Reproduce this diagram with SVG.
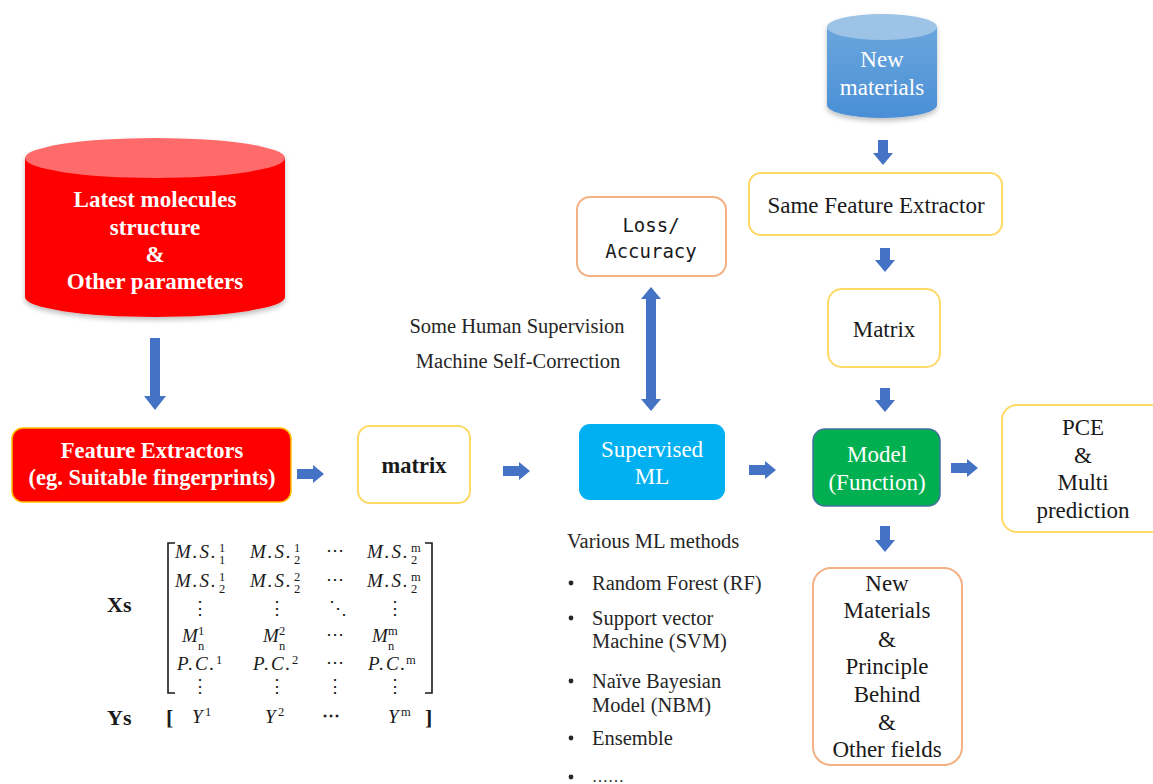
<svg xmlns="http://www.w3.org/2000/svg" width="1153" height="784" viewBox="0 0 1153 784" font-family="Liberation Serif, Times New Roman, serif">
<defs>
<linearGradient id="blueCyl" x1="0" y1="0" x2="0" y2="1">
<stop offset="0" stop-color="#6aa6dc"/>
<stop offset="1" stop-color="#4a8fd6"/>
</linearGradient>
<filter id="shadow" x="-10%" y="-10%" width="120%" height="130%">
<feDropShadow dx="0" dy="3" stdDeviation="2.5" flood-color="#000" flood-opacity="0.25"/>
</filter>
</defs>
<style>
.ser{font-family:"Liberation Serif","Times New Roman",serif;}
.wb{fill:#fff;font-weight:bold;font-size:23px;text-anchor:middle;}
.w{fill:#fff;font-size:23px;text-anchor:middle;}
.k{fill:#1a1a1a;font-size:23px;text-anchor:middle;}
.s{fill:#262626;font-size:20.5px;}
.m{fill:#1a1a1a;font-size:19px;font-style:italic;letter-spacing:2px;}
.sm{fill:#1a1a1a;font-size:12.5px;}
.dots{fill:#1a1a1a;font-size:18px;text-anchor:middle;}
.arrow{fill:#4472c4;}
.ybox{fill:#fff;stroke:#ffd966;stroke-width:2;}
.obox{fill:#fff;stroke:#f4b183;stroke-width:2;}
</style>
<rect width="1153" height="784" fill="#fff"/>

<g id="latest-molecules">
<g filter="url(#shadow)">
<path d="M25 158 V297 A130 20 0 0 0 285 297 V158 Z" fill="#ff0000"/>
<ellipse cx="155" cy="158" rx="130" ry="20" fill="#ff6b6b"/>
</g>
<text class="ser wb" x="155" y="207">Latest molecules</text>
<text class="ser wb" x="155" y="235">structure</text>
<text class="ser wb" x="155" y="262">&amp;</text>
<text class="ser wb" x="155" y="289">Other parameters</text>
</g>

<g id="feature-extractors">
<rect x="12" y="428" width="279" height="74" rx="11" fill="#ff0000" stroke="#ffc000" stroke-width="1.5"/>
<text class="ser wb" x="152" y="458" style="font-size:22.5px">Feature Extractors</text>
<text class="ser wb" x="152" y="485" style="font-size:22.5px">(eg. Suitable fingerprints)</text>
</g>

<g id="matrix">
<rect class="ybox" x="358" y="426" width="112" height="77" rx="12"/>
<text class="ser" x="414" y="473" style="font-size:22.5px;font-weight:bold;text-anchor:middle;fill:#1a1a1a">matrix</text>
</g>

<g id="supervised-ml">
<rect x="579" y="424" width="146" height="76" rx="11" fill="#00b0f0"/>
<text class="ser w" x="652" y="457">Supervised</text>
<text class="ser w" x="652" y="484">ML</text>
</g>

<g id="loss-accuracy">
<rect class="obox" x="577" y="197" width="149" height="79" rx="13"/>
<text x="651" y="232" style="font-family:'DejaVu Sans Mono','Liberation Mono',monospace;font-size:19px;fill:#1a1a1a;text-anchor:middle">Loss/</text>
<text x="651" y="258" style="font-family:'DejaVu Sans Mono','Liberation Mono',monospace;font-size:19px;fill:#1a1a1a;text-anchor:middle">Accuracy</text>
</g>

<g id="supervision-label">
<text class="ser s" x="517" y="333" text-anchor="middle">Some Human Supervision</text>
<text class="ser s" x="518" y="368" text-anchor="middle">Machine Self-Correction</text>
</g>

<g id="new-materials-db">
<g filter="url(#shadow)">
<path d="M827 27 V105 A55 13 0 0 0 937 105 V27 Z" fill="url(#blueCyl)"/>
<ellipse cx="882" cy="27" rx="55" ry="13" fill="#9dc3e6"/>
</g>
<text class="ser w" x="882" y="67">New</text>
<text class="ser w" x="882" y="95">materials</text>
</g>

<g id="same-feature-extractor">
<rect class="ybox" x="749" y="173" width="253" height="62" rx="12"/>
<text class="ser k" x="876" y="213">Same Feature Extractor</text>
</g>

<g id="matrix-2">
<rect class="ybox" x="828" y="289" width="112" height="78" rx="14"/>
<text class="ser k" x="884" y="337">Matrix</text>
</g>

<g id="model">
<rect x="813" y="429" width="127" height="77" rx="12" fill="#00b050" stroke="#41719c" stroke-width="1.5"/>
<text class="ser w" x="877" y="462">Model</text>
<text class="ser w" x="877" y="490">(Function)</text>
</g>

<g id="pce">
<path class="ybox" d="M1165 405 H1017 A15 15 0 0 0 1002 420 V517 A15 15 0 0 0 1017 532 H1165"/>
<text class="ser k" x="1083" y="435">PCE</text>
<text class="ser k" x="1083" y="463">&amp;</text>
<text class="ser k" x="1083" y="490">Multi</text>
<text class="ser k" x="1083" y="518">prediction</text>
</g>

<g id="new-materials-out">
<rect class="obox" x="813" y="568" width="149" height="197" rx="18"/>
<text class="ser k" x="887" y="591">New</text>
<text class="ser k" x="887" y="618">Materials</text>
<text class="ser k" x="887" y="647">&amp;</text>
<text class="ser k" x="887" y="674">Principle</text>
<text class="ser k" x="887" y="702">Behind</text>
<text class="ser k" x="887" y="730">&amp;</text>
<text class="ser k" x="887" y="757">Other fields</text>
</g>

<g id="ml-methods">
<text class="ser s" x="567" y="548">Various ML methods</text>
<g fill="#262626">
<circle cx="571" cy="583" r="2.4"/>
<circle cx="571" cy="618" r="2.4"/>
<circle cx="571" cy="681" r="2.4"/>
<circle cx="571" cy="738" r="2.4"/>
<circle cx="571" cy="777" r="2.4"/>
</g>
<text class="ser s" x="592" y="590">Random Forest (RF)</text>
<text class="ser s" x="592" y="625">Support vector</text>
<text class="ser s" x="592" y="648">Machine (SVM)</text>
<text class="ser s" x="592" y="688">Naïve Bayesian</text>
<text class="ser s" x="592" y="712">Model (NBM)</text>
<text class="ser s" x="592" y="745">Ensemble</text>
<text class="ser s" x="592" y="782" style="font-size:16px">……</text>
</g>

<g id="feature-matrix">
<text class="ser" x="107" y="612" style="font-size:22px;font-weight:bold;fill:#1a1a1a">Xs</text>
<text class="ser" x="107" y="725" style="font-size:22px;font-weight:bold;fill:#1a1a1a">Ys</text>
<path d="M175 543 H168 V693 H175 M425 543 H432 V693 H425" fill="none" stroke="#1a1a1a" stroke-width="1.6"/>
<!-- row 1 -->
<text class="ser m" x="175" y="558">M.S.</text>
<text class="ser sm" x="219" y="552">1</text><text class="ser sm" x="219" y="564">1</text>
<text class="ser m" x="250" y="558">M.S.</text>
<text class="ser sm" x="294" y="552">1</text><text class="ser sm" x="294" y="564">2</text>
<text class="ser dots" x="335" y="556">⋯</text>
<text class="ser m" x="367" y="558">M.S.</text>
<text class="ser sm" x="411" y="552">m</text><text class="ser sm" x="411" y="564">2</text>
<!-- row 2 -->
<text class="ser m" x="175" y="587">M.S.</text>
<text class="ser sm" x="219" y="581">1</text><text class="ser sm" x="219" y="593">2</text>
<text class="ser m" x="250" y="587">M.S.</text>
<text class="ser sm" x="294" y="581">2</text><text class="ser sm" x="294" y="593">2</text>
<text class="ser dots" x="335" y="585">⋯</text>
<text class="ser m" x="367" y="587">M.S.</text>
<text class="ser sm" x="411" y="581">m</text><text class="ser sm" x="411" y="593">2</text>
<!-- row 3 -->
<text class="ser dots" x="200" y="614">⋮</text>
<text class="ser dots" x="277" y="614">⋮</text>
<text class="ser dots" x="338" y="614">⋱</text>
<text class="ser dots" x="395" y="614">⋮</text>
<!-- row 4 -->
<text class="ser m" x="182" y="642">M</text>
<text class="ser sm" x="198" y="635">1</text><text class="ser sm" x="198" y="650">n</text>
<text class="ser m" x="263" y="642">M</text>
<text class="ser sm" x="279" y="635">2</text><text class="ser sm" x="279" y="650">n</text>
<text class="ser dots" x="335" y="640">⋯</text>
<text class="ser m" x="372" y="642">M</text>
<text class="ser sm" x="388" y="635">m</text><text class="ser sm" x="388" y="650">n</text>
<!-- row 5 -->
<text class="ser m" x="177" y="670">P.C.</text>
<text class="ser sm" x="216" y="664">1</text>
<text class="ser m" x="253" y="670">P.C.</text>
<text class="ser sm" x="292" y="664">2</text>
<text class="ser dots" x="335" y="668">⋯</text>
<text class="ser m" x="368" y="670">P.C.</text>
<text class="ser sm" x="406" y="664">m</text>
<!-- row 6 -->
<text class="ser dots" x="200" y="692">⋮</text>
<text class="ser dots" x="277" y="692">⋮</text>
<text class="ser dots" x="335" y="692">⋮</text>
<text class="ser dots" x="395" y="692">⋮</text>
<!-- Ys row -->
<text class="ser" x="166" y="725" style="font-size:22px;font-weight:bold;fill:#1a1a1a">[</text>
<text class="ser" x="192" y="723" style="font-size:19px;font-style:italic;fill:#1a1a1a">Y</text>
<text class="ser sm" x="205" y="716">1</text>
<text class="ser" x="265" y="723" style="font-size:19px;font-style:italic;fill:#1a1a1a">Y</text>
<text class="ser sm" x="278" y="716">2</text>
<text class="ser dots" x="331" y="721" style="font-weight:bold">⋯</text>
<text class="ser" x="388" y="723" style="font-size:19px;font-style:italic;fill:#1a1a1a">Y</text>
<text class="ser sm" x="401" y="716">m</text>
<text class="ser" x="425" y="725" style="font-size:22px;font-weight:bold;fill:#1a1a1a">]</text>
</g>

<g id="connectors">
<polygon class="arrow" points="150,338 160,338 160,396 166,396 155,410 144,396 150,396"/>
<polygon class="arrow" points="297,469 313,469 313,465 324,474 313,483 313,479 297,479"/>
<polygon class="arrow" points="503,466 519,466 519,462 530,471 519,480 519,476 503,476"/>
<polygon class="arrow" points="749,465 765,465 765,461 776,470 765,479 765,475 749,475"/>
<polygon class="arrow" points="951,463 967,463 967,459 978,468 967,477 967,473 951,473"/>
<polygon class="arrow" points="651,287 661,299 656,299 656,399 661,399 651,411 641,399 646,399 646,299 641,299"/>
<polygon class="arrow" points="878,140 888,140 888,153 893,153 883,165 873,153 878,153"/>
<polygon class="arrow" points="880,248 890,248 890,260 895,260 885,272 875,260 880,260"/>
<polygon class="arrow" points="880,388 890,388 890,400 895,400 885,412 875,400 880,400"/>
<polygon class="arrow" points="880,526 890,526 890,540 895,540 885,552 875,540 880,540"/>
</g>
</svg>
